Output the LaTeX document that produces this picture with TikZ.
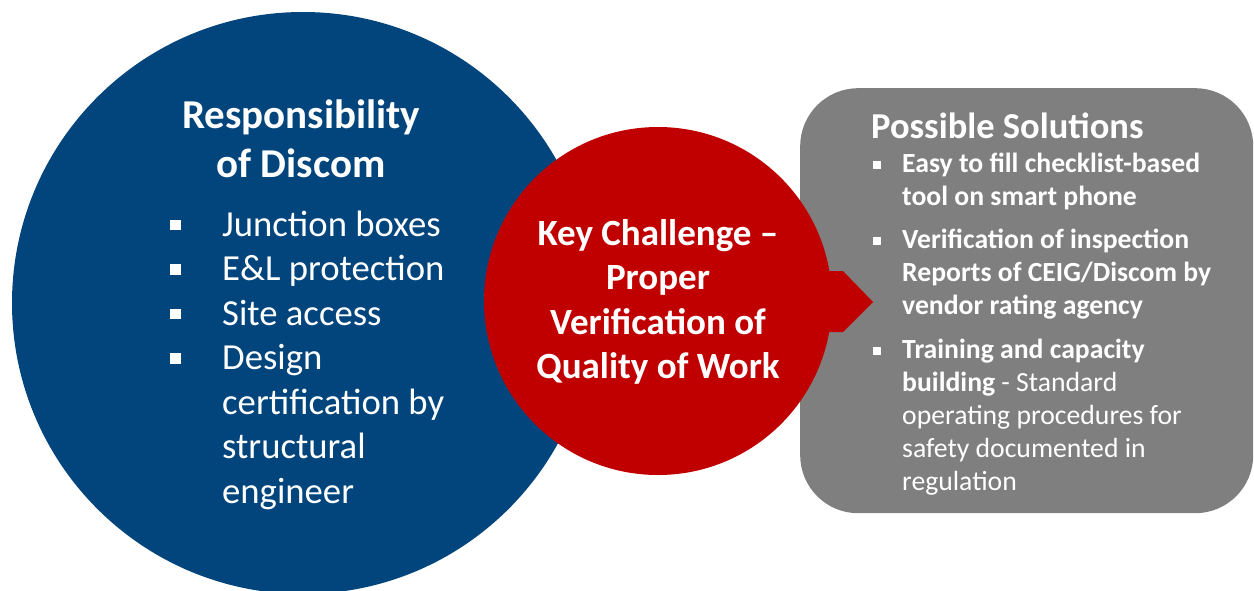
\documentclass[tikz,border=0pt]{standalone}
\usepackage{fontspec}
\setmainfont{Carlito}
\definecolor{dblue}{RGB}{1,69,124}
\definecolor{kred}{RGB}{192,0,0}
\definecolor{sgray}{RGB}{127,127,127}
\newcommand{\cln}[1]{\hbox to 0pt{\hss#1\hss}}
\tikzset{
  txt/.style={inner sep=0pt, text=white},
  bigbul/.style={fill=white, inner sep=0pt, minimum size=10.5pt, draw=none},
  smbul/.style={fill=white, inner sep=0pt, minimum size=8pt, draw=none},
}
\begin{document}
\begin{tikzpicture}[x=1pt,y=-1pt]
\useasboundingbox (0,0) rectangle (1254,590);
% shapes
\fill[dblue] (303,303) circle[radius=291];
\node[fill=sgray, rounded corners=58pt, minimum width=453pt, minimum height=425pt, inner sep=0pt, anchor=north west] (box) at (800,88) {};
\fill[kred] (800,271) -- (843,271) -- (873,302) -- (843,332) -- (800,332) -- cycle;
\node[circle, fill=kred, minimum size=348pt, inner sep=0pt] (red) at (658,301) {};
% blue circle text
\node[txt, anchor=base, font=\fontsize{41}{49}\selectfont\bfseries] (title) at (301,128)
  {\vtop{\cln{Responsibility}\cln{of Discom}}};
\foreach \y/\n in {236/b1,280.5/b2,325/b3,369.5/b4}
  \node[bigbul] (\n) at (175.5,\y-11) {};
\node[txt, anchor=base west, font=\fontsize{36.7}{44.5}\selectfont] (l1) at (222,236) {Junction boxes};
\node[txt, anchor=base west, font=\fontsize{36.7}{44.5}\selectfont] (l2) at (222,280.5) {E\&L protection};
\node[txt, anchor=base west, font=\fontsize{36.7}{44.5}\selectfont] (l3) at (222,325) {Site access};
\node[txt, anchor=base west, font=\fontsize{36.7}{44.5}\selectfont] (l4) at (222,369.5)
  {\vtop{\hbox{Design}\hbox{certification by}\hbox{structural}\hbox{engineer}}};
% red circle text
\node[txt, anchor=base, font=\fontsize{37}{44.5}\selectfont\bfseries] (key) at (658,245)
  {\vtop{\cln{Key Challenge –}\cln{Proper}\cln{Verification of}\cln{Quality of Work}}};
% gray box text
\node[txt, anchor=base west, font=\fontsize{36.5}{40}\selectfont\bfseries] (sol) at (871,138) {Possible Solutions};
\foreach \y/\n in {172/s1,248/s2,358/s3}
  \node[smbul] (\n) at (876.5,\y-7) {};
\node[txt, anchor=base west, font=\fontsize{27.7}{33}\selectfont\bfseries] (i1) at (902,172)
  {\vtop{\hbox{Easy to fill checklist-based}\hbox{tool on smart phone}}};
\node[txt, anchor=base west, font=\fontsize{27.7}{33}\selectfont\bfseries] (i2) at (902,248)
  {\vtop{\hbox{Verification of inspection}\hbox{Reports of CEIG/Discom by}\hbox{vendor rating agency}}};
\node[txt, anchor=base west, font=\fontsize{27.7}{33}\selectfont] (i3) at (902,358)
  {\vtop{\hbox{\bfseries Training and capacity}\hbox{\bfseries building\mdseries\ - Standard}\hbox{operating procedures for}\hbox{safety documented in}\hbox{regulation}}};
\end{tikzpicture}
\end{document}
